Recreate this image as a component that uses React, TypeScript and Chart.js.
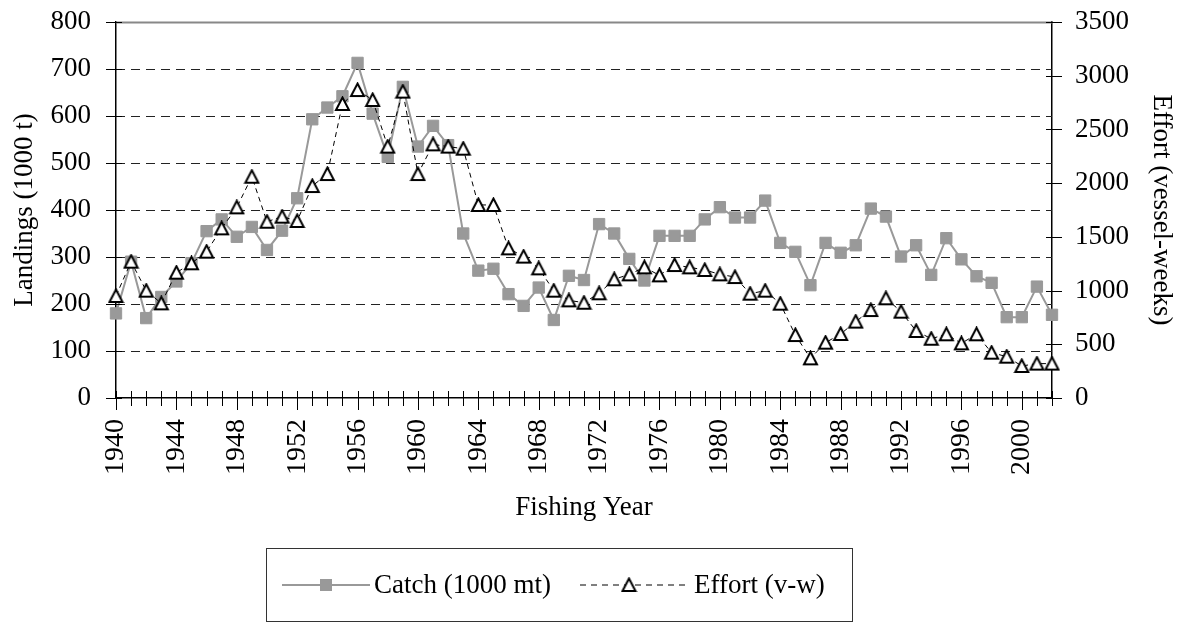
import React, { useEffect, useRef } from 'react';
import { Chart, registerables } from 'chart.js';

Chart.register(...registerables);

const years = [
  '1940', '1941', '1942', '1943', '1944', '1945', '1946', '1947', '1948', '1949',
  '1950', '1951', '1952', '1953', '1954', '1955', '1956', '1957', '1958', '1959',
  '1960', '1961', '1962', '1963', '1964', '1965', '1966', '1967', '1968', '1969',
  '1970', '1971', '1972', '1973', '1974', '1975', '1976', '1977', '1978', '1979',
  '1980', '1981', '1982', '1983', '1984', '1985', '1986', '1987', '1988', '1989',
  '1990', '1991', '1992', '1993', '1994', '1995', '1996', '1997', '1998', '1999',
  '2000', '2001', '2002',
];

const xTickYears = [
  '1940', '1944', '1948', '1952', '1956', '1960', '1964', '1968',
  '1972', '1976', '1980', '1984', '1988', '1992', '1996', '2000',
];

const catchValues = [
  180, 290, 170, 215, 248, 287, 355, 380, 343, 364,
  315, 356, 425, 593, 618, 642, 713, 605, 513, 662,
  535, 579, 538, 350, 271, 275, 221, 196, 235, 166,
  260, 251, 370, 350, 296, 250, 345, 345, 345, 380,
  406, 384, 384, 420, 330, 311, 240, 330, 309, 325,
  403, 386, 301, 325, 262, 340, 295, 259, 245, 172,
  172, 237, 177,
];

const effortValues = [
  950, 1269, 999, 881, 1167, 1254, 1362, 1579, 1775, 2060,
  1641, 1688, 1648, 1973, 2085, 2737, 2867, 2774, 2340, 2852,
  2085, 2361, 2340, 2321, 1797, 1797, 1393, 1316, 1207, 999,
  909, 887, 975, 1105, 1151, 1216, 1142, 1238, 1216, 1192,
  1151, 1126, 971, 999, 878, 586, 369, 515, 596, 711,
  819, 928, 804, 624, 552, 593, 509, 593, 422, 385,
  298, 320, 320,
];

const leftTicks = [0, 100, 200, 300, 400, 500, 600, 700, 800];
const rightTicks = [0, 500, 1000, 1500, 2000, 2500, 3000, 3500];

const FONT_FAMILY = "'Liberation Serif', 'Times New Roman', serif";
const CATCH_COLOR = '#999999';
const CLEAR = 'rgba(0,0,0,0)';

function makeTriangle(): HTMLCanvasElement {
  const c = document.createElement('canvas');
  c.width = 17;
  c.height = 16;
  const g = c.getContext('2d')!;
  g.beginPath();
  g.moveTo(8.5, 1.5);
  g.lineTo(15, 14);
  g.lineTo(2, 14);
  g.closePath();
  g.fillStyle = '#ffffff';
  g.fill();
  g.lineWidth = 2;
  g.strokeStyle = '#000000';
  g.lineJoin = 'miter';
  g.stroke();
  return c;
}

export default function App() {
  const ref = useRef<HTMLCanvasElement | null>(null);

  useEffect(() => {
    const canvas = ref.current;
    if (!canvas) return;
    const tri = makeTriangle();

    const decor = {
      id: 'decor',
      beforeDatasetsDraw(chart: any) {
        const { ctx, chartArea } = chart;
        const y = chart.scales.y;
        ctx.save();
        leftTicks.forEach((v) => {
          if (v === 0) return;
          const py = Math.round(y.getPixelForValue(v)) + 0.5;
          ctx.beginPath();
          if (v === 800) {
            ctx.setLineDash([]);
            ctx.strokeStyle = '#888888';
            ctx.lineWidth = 2;
          } else {
            ctx.setLineDash([9, 6]);
            ctx.strokeStyle = '#222222';
            ctx.lineWidth = 1;
          }
          ctx.moveTo(chartArea.left, py);
          ctx.lineTo(chartArea.right, py);
          ctx.stroke();
        });
        ctx.restore();
      },
      afterDraw(chart: any) {
        const { ctx, chartArea } = chart;
        const x = chart.scales.x;
        const y = chart.scales.y;
        const y1 = chart.scales.y1;
        ctx.save();
        ctx.setLineDash([]);
        ctx.strokeStyle = '#000000';
        ctx.lineWidth = 1;
        leftTicks.forEach((v) => {
          const py = Math.round(y.getPixelForValue(v)) + 0.5;
          ctx.beginPath();
          ctx.moveTo(chartArea.left - 10, py);
          ctx.lineTo(chartArea.left + 6, py);
          ctx.stroke();
        });
        rightTicks.forEach((v) => {
          const py = Math.round(y1.getPixelForValue(v)) + 0.5;
          ctx.beginPath();
          ctx.moveTo(chartArea.right - 6, py);
          ctx.lineTo(chartArea.right + 10, py);
          ctx.stroke();
        });
        years.forEach((yr, i) => {
          const px = Math.round(x.getPixelForValue(i)) + 0.5;
          const major = xTickYears.includes(yr);
          ctx.beginPath();
          ctx.moveTo(px, chartArea.bottom - 7);
          ctx.lineTo(px, chartArea.bottom + (major ? 12 : 8));
          ctx.stroke();
        });

        // legend
        const ds = chart.data.datasets;
        const bx = 266.5, by = 548.5, bw = 586, bh = 73;
        ctx.strokeStyle = '#333333';
        ctx.lineWidth = 1;
        ctx.strokeRect(bx, by, bw, bh);
        const ly = by + bh / 2;
        ctx.font = `27px ${FONT_FAMILY}`;
        ctx.fillStyle = '#000000';
        ctx.textBaseline = 'middle';
        ctx.textAlign = 'left';
        ctx.beginPath();
        ctx.strokeStyle = CATCH_COLOR;
        ctx.lineWidth = 2;
        ctx.moveTo(282, ly);
        ctx.lineTo(370, ly);
        ctx.stroke();
        ctx.fillStyle = CATCH_COLOR;
        ctx.fillRect(320, ly - 6, 12, 12);
        ctx.fillStyle = '#000000';
        ctx.fillText(ds[0].label, 374, ly + 1);
        ctx.beginPath();
        ctx.strokeStyle = '#000000';
        ctx.lineWidth = 1;
        ctx.setLineDash([6, 5]);
        ctx.moveTo(580, ly);
        ctx.lineTo(690, ly);
        ctx.stroke();
        ctx.setLineDash([]);
        ctx.drawImage(tri, 629 - tri.width / 2, ly - tri.height / 2);
        ctx.fillText(ds[1].label, 694, ly + 1);
        ctx.restore();
      },
    };

    const tickFont = { family: FONT_FAMILY, size: 27 };
    const chart = new Chart(canvas, {
      type: 'line',
      data: {
        labels: years,
        datasets: [
          {
            label: 'Catch (1000 mt)',
            data: catchValues,
            yAxisID: 'y',
            borderColor: CATCH_COLOR,
            borderWidth: 2,
            backgroundColor: CATCH_COLOR,
            pointStyle: 'rect',
            pointRadius: 8,
            pointBorderWidth: 1,
            pointBackgroundColor: CATCH_COLOR,
            pointBorderColor: CATCH_COLOR,
            tension: 0,
            order: 1,
          },
          {
            label: 'Effort (v-w)',
            data: effortValues,
            yAxisID: 'y1',
            borderColor: '#000000',
            borderWidth: 1,
            borderDash: [5, 4],
            pointStyle: tri as any,
            pointRadius: 7,
            tension: 0,
            order: 0,
          },
        ],
      },
      options: {
        responsive: false,
        animation: false,
        devicePixelRatio: 1,
        layout: { padding: { top: 22, left: 0, right: 0, bottom: 0 } },
        plugins: {
          legend: { display: false },
          tooltip: { enabled: false },
        },
        scales: {
          x: {
            type: 'category',
            offset: false,
            grid: { display: true, drawOnChartArea: false, drawTicks: true, tickLength: 21, tickColor: CLEAR, color: CLEAR },
            border: { display: true, color: '#000000', width: 1.5 },
            ticks: {
              autoSkip: false,
              minRotation: 90,
              maxRotation: 90,
              padding: 0,
              color: '#000000',
              font: { family: FONT_FAMILY, size: 28 },
              callback: (_v: any, i: number) => (xTickYears.includes(years[i]) ? years[i] : ''),
            },
            title: {
              display: true,
              text: 'Fishing Year',
              color: '#000000',
              font: tickFont,
              padding: { top: 0, bottom: 101 },
            },
            afterFit: (s: any) => { s.height = 227; },
          },
          y: {
            position: 'left',
            min: 0,
            max: 800,
            grid: { display: true, drawOnChartArea: false, drawTicks: true, tickLength: 25, tickColor: CLEAR, color: CLEAR },
            border: { display: true, color: '#000000', width: 1.5 },
            ticks: { stepSize: 100, padding: 0, color: '#000000', font: tickFont, callback: (v: any) => String(v) },
            title: {
              display: true,
              text: 'Landings (1000 t)',
              color: '#000000',
              font: tickFont,
              padding: { top: 9, bottom: 0 },
            },
            afterFit: (s: any) => { s.width = 116; },
          },
          y1: {
            position: 'right',
            min: 0,
            max: 3500,
            grid: { display: true, drawOnChartArea: false, drawTicks: true, tickLength: 23, tickColor: CLEAR, color: CLEAR },
            border: { display: true, color: '#000000', width: 1.5 },
            ticks: { stepSize: 500, padding: 0, color: '#000000', font: tickFont, callback: (v: any) => String(v) },
            title: {
              display: true,
              text: 'Effort (vessel-weeks)',
              color: '#000000',
              font: tickFont,
              padding: { top: 4, bottom: 0 },
            },
            afterFit: (s: any) => { s.width = 129; },
          },
        },
      } as any,
      plugins: [decor],
    });

    return () => chart.destroy();
  }, []);

  return (
    <div style={{ position: 'absolute', left: 0, top: 0, width: 1181, height: 625, background: '#ffffff' }}>
      <canvas ref={ref} width={1181} height={625} style={{ display: 'block' }} />
    </div>
  );
}
